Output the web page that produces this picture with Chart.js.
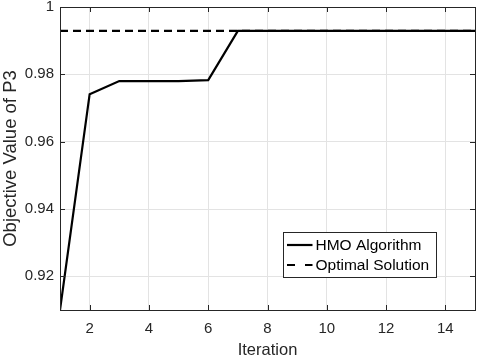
<!DOCTYPE html>
<html>
<head>
<meta charset="utf-8">
<script src="https://cdn.jsdelivr.net/npm/chart.js@4"></script>
<style>
html,body{margin:0;padding:0;background:#fff;}
#wrap{width:480px;height:360px;position:relative;}
</style>
</head>
<body>
<div id="wrap"><canvas id="c" width="480" height="360"></canvas></div>
<script>
const iterations = [1,2,3,4,5,6,7,8,9,10,11,12,13,14,15];
const hmoValues = [0.910,0.9741,0.9780,0.9780,0.9780,0.9783,0.9929,0.9929,0.9929,0.9929,0.9929,0.9929,0.9929,0.9929,0.9929];
const optimalValues = [0.9929,0.9929,0.9929,0.9929,0.9929,0.9929,0.9929,0.9929,0.9929,0.9929,0.9929,0.9929,0.9929,0.9929,0.9929];
const xTicks = [2,4,6,8,10,12,14];
const yTicks = [0.92,0.94,0.96,0.98,1];
const seriesLabels = ['HMO Algorithm','Optimal Solution'];

const FONT = "'Liberation Sans', Arial, Helvetica, sans-serif";
const AXIS = '#262626';

const boxPlugin = {
  id: 'boxPlugin',
  afterDraw(chart) {
    const ctx = chart.ctx;
    const a = chart.chartArea;
    const xs = chart.scales.x, ys = chart.scales.y;
    ctx.save();
    ctx.strokeStyle = AXIS;
    ctx.lineWidth = 1;
    const tl = 5;
    ctx.beginPath();
    xTicks.forEach(v => {
      const px = Math.round(xs.getPixelForValue(v)) + 0.5;
      ctx.moveTo(px, a.bottom); ctx.lineTo(px, a.bottom - tl);
      ctx.moveTo(px, a.top); ctx.lineTo(px, a.top + tl);
    });
    yTicks.forEach(v => {
      const py = Math.round(ys.getPixelForValue(v)) + 0.5;
      ctx.moveTo(a.left, py); ctx.lineTo(a.left + tl, py);
      ctx.moveTo(a.right, py); ctx.lineTo(a.right - tl, py);
    });
    ctx.stroke();
    ctx.strokeRect(Math.round(a.left)+0.5, Math.round(a.top)+0.5, Math.round(a.right-a.left), Math.round(a.bottom-a.top));

    // legend
    const lx = 283.5, ly = 232.5, lw = 153, lh = 45;
    ctx.fillStyle = '#fff';
    ctx.fillRect(lx, ly, lw, lh);
    ctx.strokeStyle = AXIS;
    ctx.lineWidth = 1;
    ctx.strokeRect(lx, ly, lw, lh);
    ctx.font = '15.5px ' + FONT;
    ctx.textBaseline = 'middle';
    ctx.fillStyle = '#000';
    chart.data.datasets.forEach((ds, i) => {
      const cy = ly + 12.5 + i * 20;
      ctx.save();
      ctx.strokeStyle = ds.borderColor;
      ctx.lineWidth = ds.borderWidth;
      ctx.setLineDash(ds.borderDash ? [8, 10] : []);
      ctx.beginPath();
      ctx.moveTo(lx + 3.5, cy); ctx.lineTo(lx + 29, cy);
      ctx.stroke();
      ctx.restore();
      ctx.fillText(ds.label, lx + 32, cy + 1);
    });
    ctx.restore();
  }
};

new Chart(document.getElementById('c'), {
  type: 'line',
  data: {
    datasets: [
      {
        label: seriesLabels[0],
        data: iterations.map((x, i) => ({x: x, y: hmoValues[i]})),
        borderColor: '#000', borderWidth: 2.2, pointRadius: 0, tension: 0, fill: false
      },
      {
        label: seriesLabels[1],
        data: iterations.map((x, i) => ({x: x, y: optimalValues[i]})),
        borderColor: '#000', borderWidth: 2.2, borderDash: [8, 5], pointRadius: 0, tension: 0, fill: false
      }
    ]
  },
  options: {
    responsive: false,
    animation: false,
    layout: { padding: { top: 7, right: 5, left: 0, bottom: 0 } },
    plugins: { legend: { display: false }, tooltip: { enabled: false } },
    scales: {
      x: {
        type: 'linear', min: 1, max: 15,
        afterBuildTicks(s) { s.ticks = xTicks.map(v => ({value: v})); },
        afterFit(s) { s.height = 50; s.paddingLeft = 0; s.paddingRight = 0; },
        grid: { color: '#e3e3e3', drawTicks: false, drawOnChartArea: true },
        border: { display: false },
        ticks: { color: AXIS, font: { family: FONT, size: 15 }, padding: 10, maxRotation: 0, callback: v => String(v) },
        title: { display: true, text: 'Iteration', color: AXIS, font: { family: FONT, size: 16.5 }, padding: { top: 5, bottom: 0 } }
      },
      y: {
        type: 'linear', min: 0.91, max: 1,
        afterBuildTicks(s) { s.ticks = yTicks.map(v => ({value: v})); },
        afterFit(s) { s.width = 60; s.paddingTop = 0; s.paddingBottom = 0; },
        grid: { color: '#e3e3e3', drawTicks: false },
        border: { display: false },
        ticks: { color: AXIS, font: { family: FONT, size: 15 }, padding: 6, callback: v => (Math.abs(v - 1) < 1e-9 ? '1' : v.toFixed(2)) },
        title: { display: true, text: 'Objective Value of P3', color: AXIS, font: { family: FONT, size: 18.5 }, padding: { top: 0, bottom: 0 } }
      }
    }
  },
  plugins: [boxPlugin]
});
</script>
</body>
</html>
